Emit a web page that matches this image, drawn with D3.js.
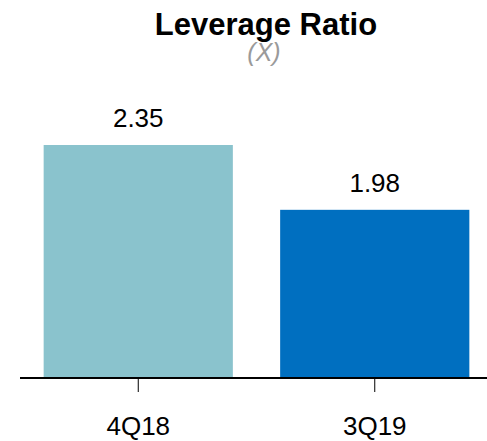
<!DOCTYPE html>
<html>
<head>
<meta charset="utf-8">
<script src="https://cdn.jsdelivr.net/npm/d3@7"></script>
<style>
  html, body { margin: 0; padding: 0; background: #fff; }
  svg { display: block; font-family: Arial, "Liberation Sans", sans-serif; }
</style>
</head>
<body>
<div id="chart"></div>
<script>
// Data
const categories = ["4Q18", "3Q19"];
const values = [2.35, 1.98];
const valueLabels = ["2.35", "1.98"];
const barColors = ["#8AC3CD", "#006FC0"];

const W = 487, H = 441;
const baseY = 378;

const svg = d3.select("#chart")
  .append("svg")
  .attr("width", W)
  .attr("height", H);

// Scales (axis does not start at zero in the original)
const x = d3.scaleBand()
  .domain(categories)
  .range([20, 493])
  .paddingInner(0.2)
  .paddingOuter(0.1);

const y = d3.scaleLinear()
  .domain([1.02, 2.35])
  .range([baseY, 145]);

// Title
svg.append("text")
  .attr("x", 266)
  .attr("y", 35)
  .attr("text-anchor", "middle")
  .attr("font-size", "31px")
  .attr("font-weight", "bold")
  .attr("fill", "#000")
  .text("Leverage Ratio");

svg.append("text")
  .attr("x", 264)
  .attr("y", 61)
  .attr("text-anchor", "middle")
  .attr("font-size", "25px")
  .attr("font-style", "italic")
  .attr("fill", "#9a9a9a")
  .text("(X)");

// Bars
svg.selectAll(".bar")
  .data(values)
  .enter()
  .append("rect")
  .attr("class", "bar")
  .attr("x", (d, i) => x(categories[i]))
  .attr("y", d => y(d))
  .attr("width", x.bandwidth())
  .attr("height", d => baseY - y(d))
  .attr("fill", (d, i) => barColors[i]);

// Value labels
svg.selectAll(".val")
  .data(values)
  .enter()
  .append("text")
  .attr("class", "val")
  .attr("x", (d, i) => x(categories[i]) + x.bandwidth() / 2)
  .attr("y", d => y(d) - 18)
  .attr("text-anchor", "middle")
  .attr("font-size", "26px")
  .attr("fill", "#000")
  .text((d, i) => valueLabels[i]);

// X axis
const xAxis = svg.append("g")
  .attr("transform", `translate(0,${baseY})`)
  .call(d3.axisBottom(x).tickSize(14).tickPadding(25).tickSizeOuter(0));

xAxis.select(".domain").remove();
xAxis.append("line")
  .attr("x1", 20)
  .attr("x2", W)
  .attr("y1", 0)
  .attr("y2", 0)
  .attr("stroke", "#000")
  .attr("stroke-width", 2);

xAxis.selectAll(".tick line")
  .attr("stroke", "#000")
  .attr("y1", 1);

xAxis.selectAll(".tick text")
  .attr("font-size", "26px")
  .attr("font-family", "Arial, 'Liberation Sans', sans-serif")
  .attr("fill", "#000");
</script>
</body>
</html>
